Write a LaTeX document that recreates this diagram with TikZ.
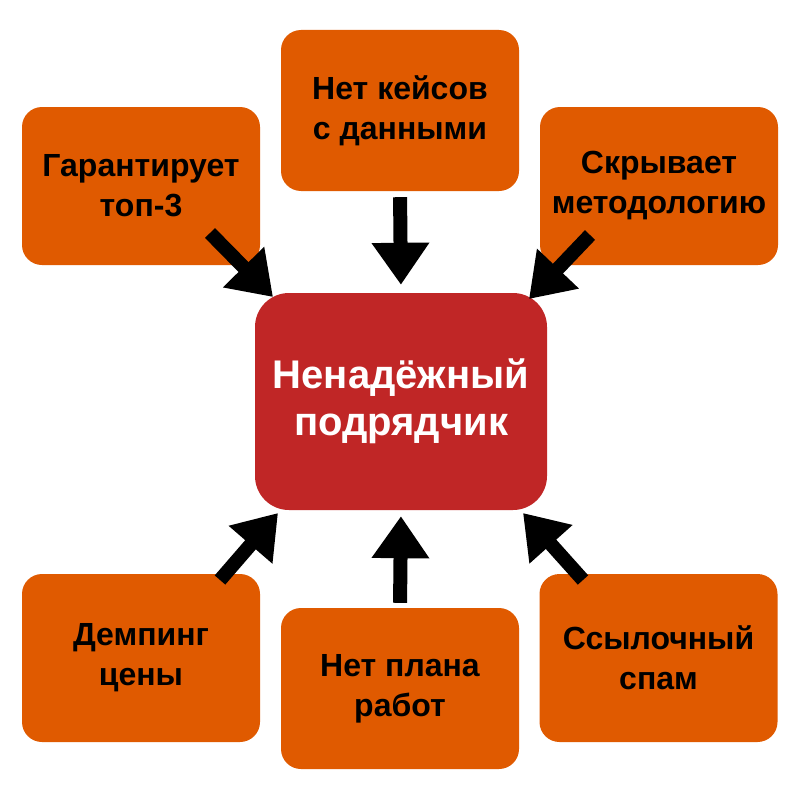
\documentclass[tikz,border=0pt]{standalone}
\usepackage{fontspec}
\setmainfont{Liberation Sans}
\usetikzlibrary{arrows.meta}
\definecolor{boxorange}{RGB}{224,90,0}
\definecolor{boxred}{RGB}{192,38,38}
\tikzset{
  outerbox/.style={fill=boxorange, rounded corners=20pt, minimum width=238pt, align=center,
    text=black, font=\fontsize{32}{40}\selectfont\bfseries, inner sep=0pt},
  centerbox/.style={fill=boxred, rounded corners=34pt, minimum width=292pt, minimum height=217pt,
    align=center, text=white, font=\fontsize{40}{47}\selectfont\bfseries, inner sep=0pt},
  bigarrow/.style={line width=14pt, -{Triangle[width=55pt,length=42pt]}, black}
}
\begin{document}
\begin{tikzpicture}[x=1pt,y=-1pt]
\useasboundingbox[fill=white] (0,0) rectangle (800,800);
\node[centerbox] (c) at (401,401.5) {Ненадёжный\\подрядчик};
\node[outerbox, minimum height=158pt] (tl) at (141,186) {Гарантирует\\топ-3};
\node[outerbox, minimum height=161pt] (tc) at (400,110.5) {Нет кейсов\\с данными};
\node[outerbox, minimum height=158pt] (tr) at (659,186) {Скрывает\\методологию};
\node[outerbox, minimum height=168pt] (bl) at (141,658) {Демпинг\\цены};
\node[outerbox, minimum height=161pt] (bc) at (400,688.5) {Нет плана\\работ};
\node[outerbox, minimum height=168pt] (br) at (658.5,658) {Ссылочный\\спам};
\coordinate (tlS) at (210,233);
\coordinate (tlE) at (273,297);
\coordinate (trS) at (590,235);
\coordinate (trE) at (529,299);
\coordinate (blS) at (220,580);
\coordinate (blE) at (278,513);
\coordinate (brS) at (583,580);
\coordinate (brE) at (523,513);
\draw[bigarrow] (tlS) -- (tlE);
\draw[bigarrow] (trS) -- (trE);
\draw[bigarrow] (blS) -- (blE);
\draw[bigarrow] (brS) -- (brE);
\draw[bigarrow, shorten <=6pt, shorten >=8pt] (tc.south) -- (c.north);
\draw[bigarrow, shorten <=5pt, shorten >=6pt] (bc.north) -- (c.south);
\end{tikzpicture}
\end{document}
